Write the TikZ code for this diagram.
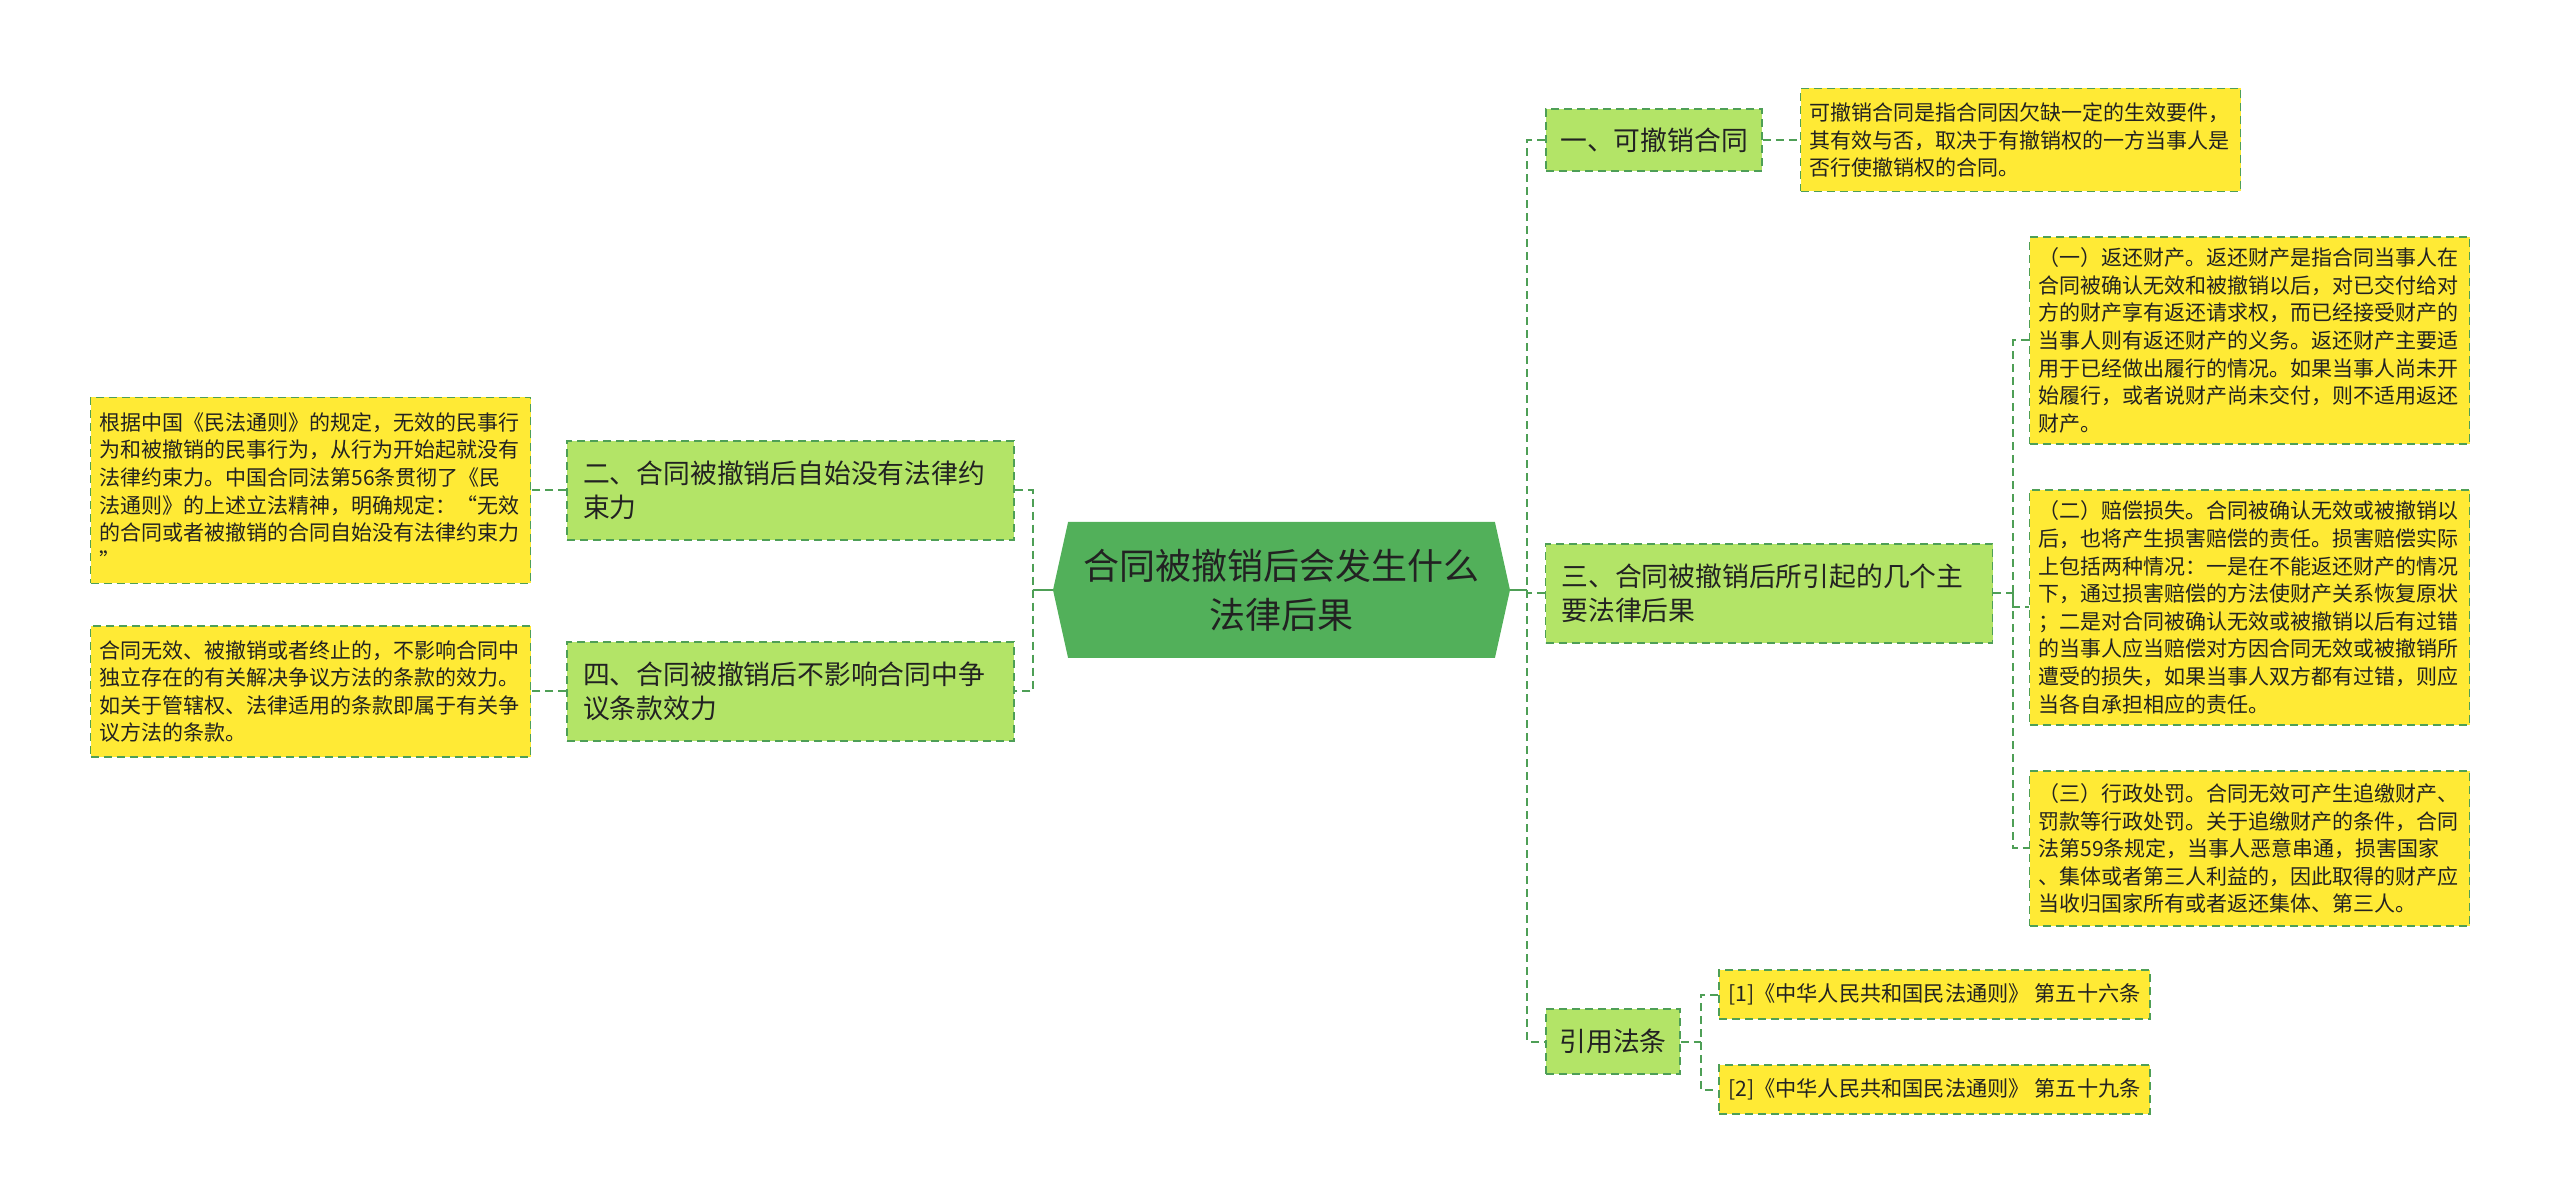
\documentclass[tikz,border=0pt]{standalone}
\usepackage{fontspec}
\setmainfont{Noto Sans CJK SC}
\usepackage{tikz}
\usetikzlibrary{shapes.symbols}

\definecolor{linkgreen}{HTML}{4E9F56}
\definecolor{rootgreen}{HTML}{52B05A}
\definecolor{branchgreen}{HTML}{B3E467}
\definecolor{leafyellow}{HTML}{FFEA35}
\definecolor{textdark}{HTML}{222222}

\begin{document}
\begin{tikzpicture}[x=0.5pt,y=-0.5pt,
    link/.style={draw=linkgreen,line width=1pt,dash pattern=on 4pt off 2.5pt},
    solidlink/.style={draw=linkgreen,line width=1.3pt},
    box/.style={draw=linkgreen,line width=0.8pt,dash pattern=on 4pt off 2.5pt,text=textdark},
    branch/.style={box,fill=branchgreen,font=\fontsize{13.4}{17}\selectfont,minimum height=31pt,inner xsep=6pt},
    branchwide/.style={branch,text width=207.5pt,inner xsep=8pt,align=left,minimum height=49.5pt},
    leaf/.style={box,fill=leafyellow,font=\fontsize{10.5}{13.8}\selectfont,text width=211pt,inner xsep=4.5pt,align=left},
    refbox/.style={box,fill=leafyellow,font=\fontsize{10.6}{13.8}\selectfont,minimum width=215.5pt,minimum height=24.5pt,inner xsep=2pt},
    rootbox/.style={signal,signal to=west and east,signal pointer angle=155,fill=rootgreen,
        minimum width=228.5pt,minimum height=68pt,align=center,text=textdark,
        font=\fontsize{18}{24.5}\selectfont}]
    \useasboundingbox (0,0) rectangle (2560,1202);

    \node[rootbox] (root) at (1281.5,590) {合同被撤销后会发生什么\\法律后果};

    \node[branch,minimum width=108pt] (b1) at (1654,140) {一、可撤销合同};
    \node[branchwide] (b2) at (790.5,490.5) {二、合同被撤销后自始没有法律约\\束力};
    \node[branchwide] (b3) at (1769,593.5) {三、合同被撤销后所引起的几个主\\要法律后果};
    \node[branchwide] (b4) at (790.5,691.5) {四、合同被撤销后不影响合同中争\\议条款效力};
    \node[branch,minimum width=67pt,minimum height=32.5pt] (b5) at (1613,1041.5) {引用法条};

    \node[leaf,minimum height=51.5pt] (l1) at (2020.5,140) {可撤销合同是指合同因欠缺一定的生效要件，\\其有效与否，取决于有撤销权的一方当事人是\\否行使撤销权的合同。};
    \node[leaf,minimum height=93pt] (left1) at (310.5,490.5) {根据中国《民法通则》的规定，无效的民事行\\为和被撤销的民事行为，从行为开始起就没有\\法律约束力。中国合同法第56条贯彻了《民\\法通则》的上述立法精神，明确规定：“无效\\的合同或者被撤销的合同自始没有法律约束力\\”};
    \node[leaf,minimum height=65.5pt] (left2) at (310.5,691.5) {合同无效、被撤销或者终止的，不影响合同中\\独立存在的有关解决争议方法的条款的效力。\\如关于管辖权、法律适用的条款即属于有关争\\议方法的条款。};
    \node[leaf,minimum height=103.5pt] (r1) at (2249.5,340.5) {（一）返还财产。返还财产是指合同当事人在\\合同被确认无效和被撤销以后，对已交付给对\\方的财产享有返还请求权，而已经接受财产的\\当事人则有返还财产的义务。返还财产主要适\\用于已经做出履行的情况。如果当事人尚未开\\始履行，或者说财产尚未交付，则不适用返还\\财产。};
    \node[leaf,minimum height=117.5pt] (r2) at (2249.5,607.5) {（二）赔偿损失。合同被确认无效或被撤销以\\后，也将产生损害赔偿的责任。损害赔偿实际\\上包括两种情况：一是在不能返还财产的情况\\下，通过损害赔偿的方法使财产关系恢复原状\\；二是对合同被确认无效或被撤销以后有过错\\的当事人应当赔偿对方因合同无效或被撤销所\\遭受的损失，如果当事人双方都有过错，则应\\当各自承担相应的责任。};
    \node[leaf,minimum height=77.5pt] (r3) at (2249.5,848.5) {（三）行政处罚。合同无效可产生追缴财产、\\罚款等行政处罚。关于追缴财产的条件，合同\\法第59条规定，当事人恶意串通，损害国家\\、集体或者第三人利益的，因此取得的财产应\\当收归国家所有或者返还集体、第三人。};
    \node[refbox] (ref1) at (1934.5,994.5) {[1]《中华人民共和国民法通则》 第五十六条};
    \node[refbox] (ref2) at (1934.5,1089.5) {[2]《中华人民共和国民法通则》 第五十九条};

    \coordinate (rt) at ([xshift=8.5pt]root.east);
    \coordinate (lt) at ([xshift=-10pt]root.west);
    \coordinate (t3) at ([xshift=10pt]b3.east);
    \coordinate (t5) at ([xshift=10pt]b5.east);

    \draw[solidlink] (root.east) -- (rt);
    \draw[solidlink] (root.west) -- (lt);
    \draw[link] (b1.west) -| (rt) |- (b5.west);
    \draw[link] (rt) |- (b3.west);
    \draw[link] (b2.east) -| (lt) |- (b4.east);

    \draw[link] (b2.west) -- (left1.east);
    \draw[link] (b4.west) -- (left2.east);
    \draw[link] (b1.east) -- (l1.west);

    \draw[link] (b3.east) -- (t3);
    \draw[link] (r1.west) -| (t3) |- (r3.west);
    \draw[link] (t3) |- (r2.west);

    \draw[link] (b5.east) -- (t5);
    \draw[link] (ref1.west) -| (t5) |- (ref2.west);
  \end{tikzpicture}
\end{document}
